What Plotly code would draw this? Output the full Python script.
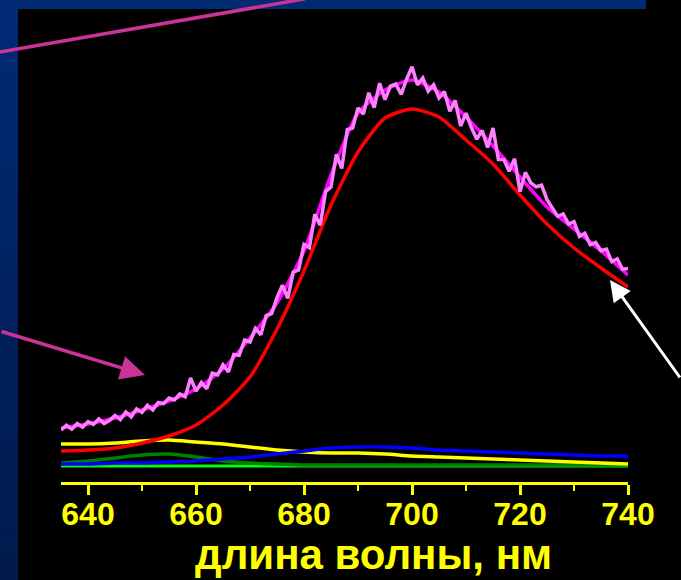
import plotly.graph_objects as go

# Wavelength grids (nm)
wl_fit = list(range(635, 741, 5))
wl_raw = list(range(635, 741))

# Fitted envelope of the measured spectrum (magenta)
fit_total = [13.5, 14.5, 16.0, 18.0, 20.25, 23.25, 28.25, 36.0, 44.75, 57.75, 76.75,
             92.25, 98.0, 100.5, 97.5, 91.25, 84.0, 76.25, 68.75, 63.25, 57.75, 51.75]

# Measured spectrum, 1 nm step (light pink)
measured = [13.0, 14.2, 13.2, 14.6, 13.7, 15.1,
            14.4, 15.8, 14.6, 15.4, 16.6,
            15.6, 17.5, 16.3, 18.3, 17.4,
            19.2, 18.0, 19.9, 19.6, 21.0,
            20.5, 22.0, 21.3, 26.0, 22.7,
            24.9, 23.3, 27.2, 26.8, 29.3,
            27.5, 31.9, 31.7, 35.5, 35.0,
            38.4, 36.8, 41.6, 42.1, 46.1,
            49.2, 45.9, 52.5, 53.0, 59.4,
            58.6, 66.9, 64.2, 72.6, 73.8,
            81.9, 78.4, 88.1, 88.5, 93.5,
            92.0, 97.3, 93.6, 99.7, 95.6,
            99.0, 99.5, 96.9, 100.7, 103.8,
            99.3, 101.0, 97.7, 99.3, 96.0,
            97.6, 92.7, 95.4, 89.0, 92.2,
            88.6, 85.7, 87.9, 83.6, 88.5,
            80.6, 80.6, 77.7, 80.8, 72.6,
            77.4, 74.8, 73.8, 74.2, 70.6,
            68.5, 66.4, 67.0, 64.5, 65.1,
            61.4, 62.2, 59.3, 59.9, 57.8,
            58.2, 55.1, 55.8, 53.2, 53.4]

# Spectral components
comp_red = [7.75, 8.0, 8.5, 9.75, 11.5, 14.25, 19.25, 26.25, 38.25, 52.75, 69.25,
            82.5, 91.0, 93.25, 91.25, 85.5, 79.5, 71.75, 64.5, 58.5, 53.5, 48.75]
comp_yellow = [9.5, 9.5, 9.75, 10.25, 10.5, 10.0, 9.5, 8.75, 8.0, 7.5, 7.25,
               7.25, 7.0, 6.5, 6.25, 6.0, 5.75, 5.5, 5.25, 5.0, 4.75, 4.5]
comp_blue = [4.5, 4.5, 4.75, 4.75, 5.0, 5.25, 5.75, 6.25, 7.0, 7.75, 8.5,
             8.75, 8.75, 8.5, 8.0, 7.75, 7.5, 7.25, 7.0, 6.75, 6.5, 6.5]
comp_green = [4.75, 5.25, 6.0, 6.75, 7.0, 6.25, 5.25, 4.75, 4.5, 4.25, 4.25,
              4.25, 4.25, 4.25, 4.25, 4.25, 4.25, 4.25, 4.25, 4.25, 4.25, 4.25]
comp_lime = [4.0] * len(wl_fit)

x_ticks = [640, 660, 680, 700, 720, 740]
x_title = "длина волны, нм"

FONT = "Liberation Sans, Arial, sans-serif"
YELLOW = "#ffff00"
PINK_ARROW = "#cc3399"

fig = go.Figure()


def add_line(x, y, color, width, shape="spline"):
    fig.add_trace(go.Scatter(x=x, y=y, mode="lines",
                             line=dict(color=color, width=width, shape=shape, smoothing=0.6),
                             hoverinfo="skip", showlegend=False))


add_line(wl_fit, comp_lime, "#00ff00", 3)
add_line(wl_fit, comp_green, "#008000", 3.5)
add_line(wl_fit, comp_yellow, YELLOW, 3.5)
add_line(wl_fit, comp_blue, "#0000ff", 3.5)
add_line(wl_fit, comp_red, "#ff0000", 3.5)
add_line(wl_fit, fit_total, "#ff00ff", 3.5)
add_line(wl_raw, measured, "#ff80ff", 3.5, shape="linear")

# Figure geometry (pixels) used to place decorations in paper coordinates
W, H = 681, 580
L, R, T, B = 61, 53, 10, 98
PW, PH = W - L - R, H - T - B


def px(xp):
    return (xp - L) / PW


def py(yp):
    return (H - B - yp) / PH


shapes = []
# Slide frame: top band and left strip with a vertical gradient
shapes.append(dict(type="rect", xref="paper", yref="paper",
                   x0=px(0), x1=px(646), y0=py(9), y1=py(-2),
                   fillcolor="#002a72", line=dict(width=0), layer="below"))
n_steps = 24
for i in range(n_steps):
    t = i / (n_steps - 1)
    g = round(42 - t * 16)
    b = round(118 - t * 42)
    y_top = i * H / n_steps
    y_bot = (i + 1) * H / n_steps + 1
    shapes.append(dict(type="rect", xref="paper", yref="paper",
                       x0=px(-2), x1=px(18), y0=py(y_bot), y1=py(y_top),
                       fillcolor=f"rgb(0,{g},{b})", line=dict(width=0), layer="below"))
# Pointer line from the upper left
shapes.append(dict(type="line", xref="paper", yref="paper",
                   x0=px(-5), y0=py(52.9), x1=px(305), y1=py(-1.2),
                   line=dict(color=PINK_ARROW, width=3.5)))

annotations = [
    dict(text="", xref="paper", yref="paper", x=px(145), y=py(375),
         ax=-152, ay=-44, showarrow=True, arrowhead=2, arrowsize=1.4,
         arrowwidth=3.5, arrowcolor=PINK_ARROW, standoff=0),
    dict(text="", xref="paper", yref="paper", x=px(610), y=py(280),
         ax=76, ay=99, showarrow=True, arrowhead=2, arrowsize=1.4,
         arrowwidth=3, arrowcolor="#ffffff", standoff=0),
    dict(text=f"<b>{x_title}</b>", xref="paper", yref="paper",
         x=px(373), y=py(554), xanchor="center", yanchor="middle", showarrow=False,
         font=dict(family=FONT, size=42, color=YELLOW)),
]

fig.update_layout(
    width=W, height=H,
    margin=dict(l=L, r=R, t=T, b=B, pad=0),
    paper_bgcolor="#000000",
    plot_bgcolor="#000000",
    showlegend=False,
    shapes=shapes,
    annotations=annotations,
    xaxis=dict(
        range=[635, 740], tickmode="array", tickvals=x_ticks,
        ticktext=[f"<b>{v}</b>" for v in x_ticks],
        ticks="outside", ticklen=10, tickwidth=2.5, tickcolor=YELLOW,
        ticklabelstandoff=-8,
        showline=True, linecolor=YELLOW, linewidth=3,
        showgrid=False, zeroline=False,
        tickfont=dict(family=FONT, size=32, color=YELLOW),
        minor=dict(tickvals=[650, 670, 690, 710, 730], ticks="outside",
                   ticklen=6, tickwidth=2, tickcolor=YELLOW),
    ),
    yaxis=dict(range=[0, 118], visible=False, showgrid=False, zeroline=False),
)

fig.write_html("out.html", config={"displayModeBar": False})
